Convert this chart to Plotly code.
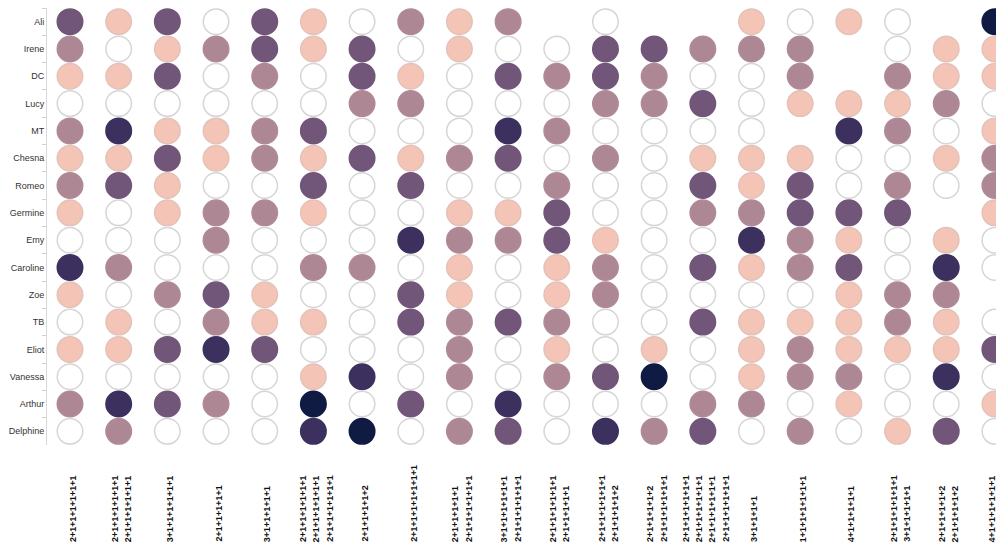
import plotly.graph_objects as go

# Row categories (top to bottom)
names = ["Ali", "Irene", "DC", "Lucy", "MT", "Chesna", "Romeo", "Germine", "Emy",
         "Caroline", "Zoe", "TB", "Eliot", "Vanessa", "Arthur", "Delphine"]

# Column labels (each column can carry several stacked label lines)
col_labels = [
    ["2+1+1+1+1+1+1"],
    ["2+1+1+1+1+1+1", "2+1+1+1+1+1+1"],
    ["3+1+1+1+1+1+1"],
    ["2+1+1+1+1+1"],
    ["3+1+1+1+1+1"],
    ["2+1+1+1+1+1+1", "2+1+1+1+1+1+1", "2+1+1+1+1+1+1"],
    ["2+1+1+1+1+2"],
    ["2+1+1+1+1+1+1+1"],
    ["2+1+1+1+1+1", "2+1+1+1+1+1+1"],
    ["3+1+1+1+1+1+1", "2+1+1+1+1+1+1"],
    ["2+1+1+1+1+1+1", "2+1+1+1+1+1"],
    ["2+1+1+1+1+1+1", "2+1+1+1+1+2"],
    ["2+1+1+1+1+2", "2+1+1+1+1+1+1"],
    ["2+1+1+1+1+1+1", "2+1+1+1+1+1+1", "2+1+1+1+1+1+1", "2+1+1+1+1+1+1"],
    ["3+1+1+1+1"],
    ["1+1+1+1+1+1+1"],
    ["4+1+1+1+1+1"],
    ["2+1+1+1+1+1+1", "3+1+1+1+1+1"],
    ["2+1+1+1+1+2", "2+1+1+1+1+2"],
    ["4+1+1+1+1+1+1"],
]

# Level per cell: 0 = none (white), 1..5 = increasing intensity, None = no mark
N = None
levels = [
    [3, 1, 3, 0, 3, 1, 0, 2, 1, 2, N, 0, N, N, 1, 0, 1, 0, N, 5],  # Ali
    [2, 0, 1, 2, 3, 1, 3, 0, 1, 0, 0, 3, 3, 2, 2, 2, N, 0, 1, 1],  # Irene
    [1, 1, 3, 0, 2, 0, 3, 1, 0, 3, 2, 3, 2, 0, 0, 2, N, 2, 1, 1],  # DC
    [0, 0, 0, 0, 0, 0, 2, 2, 0, 0, 0, 2, 2, 3, 0, 1, 1, 1, 2, 0],  # Lucy
    [2, 4, 1, 1, 2, 3, 0, 0, 0, 4, 2, 0, 0, 0, 0, N, 4, 2, 0, 1],  # MT
    [1, 1, 3, 1, 2, 1, 3, 1, 2, 3, 0, 2, 0, 1, 1, 1, 0, 0, 1, 2],  # Chesna
    [2, 3, 1, 0, 0, 3, 0, 3, 0, 0, 2, 0, 0, 3, 1, 3, 0, 2, 0, 2],  # Romeo
    [1, 0, 1, 2, 2, 1, 0, 0, 1, 1, 3, 0, 0, 2, 2, 3, 3, 3, N, 1],  # Germine
    [0, 0, 0, 2, 0, 0, 0, 4, 2, 2, 3, 1, 0, 0, 4, 2, 1, 0, 1, 0],  # Emy
    [4, 2, 0, 0, 0, 2, 2, 0, 1, 0, 1, 2, 0, 3, 1, 2, 3, 0, 4, 0],  # Caroline
    [1, 0, 2, 3, 1, 0, 0, 3, 1, 0, 1, 2, 0, 0, 0, 0, 1, 2, 2, N],  # Zoe
    [0, 1, 0, 2, 1, 1, 0, 3, 2, 3, 2, 0, 0, 3, 1, 1, 1, 2, 1, 0],  # TB
    [1, 1, 3, 4, 3, 0, 0, 0, 2, 0, 1, 0, 1, 0, 1, 2, 1, 1, 1, 3],  # Eliot
    [0, 0, 0, 0, 0, 1, 4, 0, 2, 0, 2, 3, 5, 0, 1, 2, 2, 0, 4, 0],  # Vanessa
    [2, 4, 3, 2, 0, 5, 0, 3, 0, 4, 0, 0, 0, 2, 2, 0, 1, 0, 0, 1],  # Arthur
    [0, 2, 0, 0, 0, 4, 5, 0, 2, 3, 0, 4, 2, 3, 0, 2, 0, 1, 3, 0],  # Delphine
]

fill_colors = ["#ffffff", "#f4c5b7", "#ae8795", "#725679", "#3c315e", "#0f1b42"]
edge_colors = ["#d6d6d6", "#e2c2b9", "#b08a97", "#725679", "#3c315e", "#0f1b42"]

xs, ys, fc, ec = [], [], [], []
for r, name in enumerate(names):
    for c, v in enumerate(levels[r]):
        if v is None:
            continue
        xs.append(c)
        ys.append(name)
        fc.append(fill_colors[v])
        ec.append(edge_colors[v])

fig = go.Figure(go.Scatter(
    x=xs, y=ys, mode="markers",
    marker=dict(size=25.5, color=fc, line=dict(color=ec, width=1.5)),
    hoverinfo="skip", showlegend=False,
))

ann = []
spacing_px = 13.3
for c, lines in enumerate(col_labels):
    n = len(lines)
    # keep the last column's label inside the visible page edge
    base = -3 if c == len(col_labels) - 1 else 2.5
    for k, txt in enumerate(lines):
        ann.append(dict(
            x=c, xref="x", y=-0.222, yref="paper",
            xanchor="center", yanchor="bottom",
            text="<b>" + txt + "</b>", textangle=-90, showarrow=False,
            borderpad=0, borderwidth=0,
            xshift=(k - (n - 1) / 2) * spacing_px + base,
            font=dict(family="Liberation Sans", size=9, color="#111111"),
        ))

# The page body adds an 8px offset, so the figure is sized to fill the rest
fig.update_layout(
    width=996, height=537,
    margin=dict(l=39, r=0, t=0, b=100, autoexpand=False),
    paper_bgcolor="white", plot_bgcolor="white",
    annotations=ann,
    xaxis=dict(range=[-0.4725, 19.187], showticklabels=False, showgrid=False,
               zeroline=False, showline=False, ticks="", automargin=False),
    yaxis=dict(type="category", categoryorder="array", categoryarray=names,
               range=[15.5, -0.5], tickson="boundaries", ticks="outside",
               ticklen=4, tickcolor="#d0d0d0", showline=True, linecolor="#d9d9d9",
               linewidth=1, showgrid=False, zeroline=False, automargin=False,
               tickfont=dict(family="Liberation Sans", size=9, color="#333333")),
)

fig.write_html("out.html")
